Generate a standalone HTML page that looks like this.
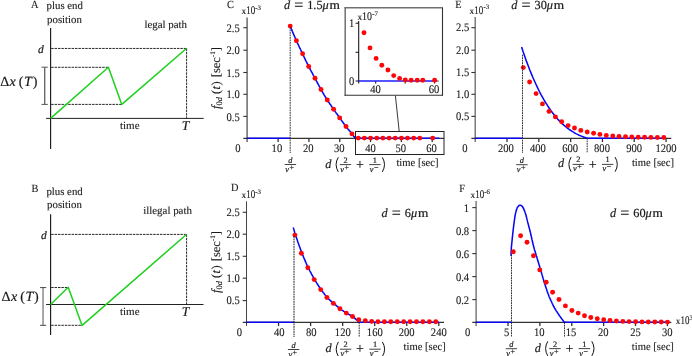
<!DOCTYPE html><html><head><meta charset="utf-8"><style>html,body{margin:0;padding:0;background:#fff}svg{display:block;will-change:transform}text{font-family:"Liberation Serif",serif;fill:#1a1a1a;text-rendering:geometricPrecision;stroke:#1a1a1a;stroke-width:0.12px}</style></head><body>
<svg width="692" height="356" viewBox="0 0 692 356">
<rect width="692" height="356" fill="#fff"/>
<text transform="translate(31.0,7.9) scale(0.94,1)" font-size="11" text-anchor="start"  >A</text>
<text x="46.6" y="8.8" font-size="10.8" text-anchor="start"  >plus end</text>
<text x="47.1" y="22.6" font-size="10.8" text-anchor="start"  >position</text>
<line x1="50.6" y1="28" x2="50.6" y2="149" stroke="#1a1a1a" stroke-width="1.15" />
<line x1="46.1" y1="118.4" x2="203.7" y2="118.4" stroke="#222" stroke-width="1.0" />
<line x1="51.2" y1="48.45" x2="186.5" y2="48.45" stroke="#111" stroke-width="0.9" stroke-dasharray="2.5 0.9"/>
<line x1="186.6" y1="48.45" x2="186.6" y2="118.4" stroke="#111" stroke-width="0.9" stroke-dasharray="2.5 0.9"/>
<line x1="51.2" y1="67.3" x2="108.4" y2="67.3" stroke="#111" stroke-width="0.9" stroke-dasharray="2.5 0.9"/>
<line x1="51.2" y1="104.4" x2="121.8" y2="104.4" stroke="#111" stroke-width="0.9" stroke-dasharray="2.5 0.9"/>
<polyline points="50.6,118.4 108.4,67.3 121.8,104.4 186.4,48.5" fill="none" stroke="#1ed01e" stroke-width="1.5" stroke-linejoin="round"/>
<line x1="44.75" y1="67.3" x2="44.75" y2="104.4" stroke="#444" stroke-width="1.1" />
<line x1="41.5" y1="67.2" x2="47.8" y2="67.2" stroke="#555" stroke-width="1" />
<line x1="41.5" y1="104.4" x2="47.8" y2="104.4" stroke="#555" stroke-width="1" />
<text x="38" y="52.7" font-size="11.5" text-anchor="start"  font-style="italic" style="stroke-width:0.2px">d</text>
<text x="0.3" y="86.2" font-size="14" text-anchor="start"  style="stroke-width:0.2px">Δ<tspan font-style="italic" dx="0.3">x</tspan><tspan dx="3">(</tspan><tspan font-style="italic" dx="0.6">T</tspan><tspan dx="0.8">)</tspan></text>
<text x="144.4" y="27.8" font-size="10.9" text-anchor="start"  >legal path</text>
<text x="120" y="128.7" font-size="11" text-anchor="start"  >time</text>
<text x="181.8" y="130.1" font-size="13.5" text-anchor="start"  font-style="italic" style="stroke-width:0.2px">T</text>
<text transform="translate(31.6,191.7) scale(0.94,1)" font-size="11" text-anchor="start"  >B</text>
<text x="46.4" y="194.8" font-size="10.8" text-anchor="start"  >plus end</text>
<text x="47.1" y="208.4" font-size="10.8" text-anchor="start"  >position</text>
<line x1="50.6" y1="214.3" x2="50.6" y2="335" stroke="#1a1a1a" stroke-width="1.15" />
<line x1="46.1" y1="304.5" x2="203.5" y2="304.5" stroke="#222" stroke-width="1.0" />
<line x1="51.2" y1="234.4" x2="186.5" y2="234.4" stroke="#111" stroke-width="0.9" stroke-dasharray="2.5 0.9"/>
<line x1="186.6" y1="234.4" x2="186.6" y2="304.5" stroke="#111" stroke-width="0.9" stroke-dasharray="2.5 0.9"/>
<line x1="51.2" y1="287.5" x2="68.2" y2="287.5" stroke="#111" stroke-width="0.9" stroke-dasharray="2.5 0.9"/>
<line x1="51.2" y1="325.3" x2="82" y2="325.3" stroke="#111" stroke-width="0.9" stroke-dasharray="2.5 0.9"/>
<polyline points="50.6,304.5 68.2,287.2 82.1,325.4 186.4,234.5" fill="none" stroke="#1ed01e" stroke-width="1.5" stroke-linejoin="round"/>
<line x1="43.05" y1="287.6" x2="43.05" y2="325.3" stroke="#999" stroke-width="1.7" />
<line x1="40.1" y1="287.6" x2="46.2" y2="287.6" stroke="#444" stroke-width="1" />
<line x1="40.1" y1="325.3" x2="46.2" y2="325.3" stroke="#444" stroke-width="1" />
<text x="41" y="239.3" font-size="11.5" text-anchor="start"  font-style="italic" style="stroke-width:0.2px">d</text>
<text x="1.6" y="301.3" font-size="14" text-anchor="start"  style="stroke-width:0.2px">Δ<tspan font-style="italic" dx="0.3">x</tspan><tspan dx="3">(</tspan><tspan font-style="italic" dx="0.6">T</tspan><tspan dx="0.8">)</tspan></text>
<text x="143.2" y="213.9" font-size="10.9" text-anchor="start"  >illegal path</text>
<text x="120" y="314.7" font-size="11" text-anchor="start"  >time</text>
<text x="181.8" y="316.4" font-size="13.5" text-anchor="start"  font-style="italic" style="stroke-width:0.2px">T</text>
<text transform="translate(227,7.8) scale(0.94,1)" font-size="11" text-anchor="start"  >C</text>
<text x="241.5" y="13.9" font-size="9.3" text-anchor="start"  >x</text>
<text transform="translate(246.2,13.9) scale(0.78,1)" font-size="11.5" text-anchor="start"  >10</text>
<text x="255.37" y="9.600000000000001" font-size="6.8" text-anchor="start"  >-3</text>
<text x="283.9" y="9" font-size="12.3" text-anchor="start"  font-style="italic" style="stroke-width:0.2px">d</text>
<text x="294.2" y="10.0" font-size="16" text-anchor="start"  style="stroke-width:0.2px">=</text>
<text x="307.2" y="9" font-size="12.3" text-anchor="start"  style="stroke-width:0.2px">1.5</text>
<text x="322.59999999999997" y="9" font-size="12.3" text-anchor="start"  font-style="italic" style="stroke-width:0.2px">μ</text>
<text x="329.59999999999997" y="9" font-size="12.3" text-anchor="start" textLength="10.4" lengthAdjust="spacingAndGlyphs" style="stroke-width:0.2px">m</text>
<line x1="247.1" y1="17.4" x2="247.1" y2="141.9" stroke="#6a6a6a" stroke-width="1.5" />
<line x1="243.29999999999998" y1="138.3" x2="444" y2="138.3" stroke="#000" stroke-width="1.0" />
<line x1="243.29999999999998" y1="27.7" x2="247.1" y2="27.7" stroke="#333" stroke-width="1.1" />
<line x1="243.29999999999998" y1="50.2" x2="247.1" y2="50.2" stroke="#333" stroke-width="1.1" />
<line x1="243.29999999999998" y1="72.5" x2="247.1" y2="72.5" stroke="#333" stroke-width="1.1" />
<line x1="243.29999999999998" y1="94.3" x2="247.1" y2="94.3" stroke="#333" stroke-width="1.1" />
<line x1="243.29999999999998" y1="116.4" x2="247.1" y2="116.4" stroke="#333" stroke-width="1.1" />
<line x1="278.117" y1="138.3" x2="278.117" y2="142.10000000000002" stroke="#333" stroke-width="1.3" />
<line x1="308.934" y1="138.3" x2="308.934" y2="142.10000000000002" stroke="#333" stroke-width="1.3" />
<line x1="339.75100000000003" y1="138.3" x2="339.75100000000003" y2="142.10000000000002" stroke="#333" stroke-width="1.3" />
<line x1="370.568" y1="138.3" x2="370.568" y2="142.10000000000002" stroke="#333" stroke-width="1.3" />
<line x1="401.385" y1="138.3" x2="401.385" y2="142.10000000000002" stroke="#333" stroke-width="1.3" />
<line x1="432.202" y1="138.3" x2="432.202" y2="142.10000000000002" stroke="#333" stroke-width="1.3" />
<text transform="translate(239.79999999999998,31.85) scale(0.92,1)" font-size="11.5" text-anchor="end"  >2.5</text>
<text transform="translate(239.79999999999998,54.35) scale(0.92,1)" font-size="11.5" text-anchor="end"  >2.0</text>
<text transform="translate(239.79999999999998,76.64999999999999) scale(0.92,1)" font-size="11.5" text-anchor="end"  >1.5</text>
<text transform="translate(239.79999999999998,98.44999999999999) scale(0.92,1)" font-size="11.5" text-anchor="end"  >1.0</text>
<text transform="translate(239.79999999999998,120.55) scale(0.92,1)" font-size="11.5" text-anchor="end"  >0.5</text>
<text transform="translate(238,152.3) scale(0.92,1)" font-size="11.5" text-anchor="middle"  >0</text>
<text transform="translate(276.9,152.3) scale(0.92,1)" font-size="11.5" text-anchor="middle"  >10</text>
<text transform="translate(308.2,152.3) scale(0.92,1)" font-size="11.5" text-anchor="middle"  >20</text>
<text transform="translate(339.2,152.3) scale(0.92,1)" font-size="11.5" text-anchor="middle"  >30</text>
<text transform="translate(370.5,152.3) scale(0.92,1)" font-size="11.5" text-anchor="middle"  >40</text>
<text transform="translate(400.7,152.3) scale(0.92,1)" font-size="11.5" text-anchor="middle"  >50</text>
<text transform="translate(431.6,152.3) scale(0.92,1)" font-size="11.5" text-anchor="middle"  >60</text>
<g transform="translate(219.5,78) rotate(-90)">
<text x="0" y="0" font-size="12.5" text-anchor="middle"  ><tspan font-style="italic">f</tspan><tspan font-size="8.5" dy="2.2">0<tspan font-style="italic">d</tspan></tspan><tspan dy="-2.2" dx="2.8">(</tspan><tspan font-style="italic" dx="0.5">t</tspan><tspan dx="0.5">)</tspan><tspan dx="4">[sec</tspan><tspan font-size="7" dy="-4.2">-1</tspan><tspan dy="4.2">]</tspan></text>
</g>
<polyline points="247.1,138.3 290.2,138.3" fill="none" stroke="#0808f2" stroke-width="1.55" stroke-linejoin="round"/>
<polyline points="290.2,26.1 290.5,26.8 290.9,27.7 291.3,28.8 291.8,29.9 292.3,31.2 292.9,32.6 293.5,34.0 294.1,35.4 294.7,36.8 295.3,38.2 295.9,39.5 296.4,40.7 296.9,41.8 297.4,43.0 298.0,44.1 298.5,45.2 299.0,46.3 299.5,47.4 300.0,48.4 300.5,49.5 301.1,50.6 301.6,51.7 302.1,52.7 302.6,53.8 303.1,54.9 303.6,56.0 304.1,57.0 304.6,58.1 305.1,59.2 305.6,60.2 306.1,61.3 306.7,62.4 307.2,63.4 307.7,64.4 308.2,65.5 308.7,66.5 309.2,67.5 309.7,68.5 310.3,69.5 310.8,70.5 311.3,71.5 311.9,72.4 312.4,73.4 312.9,74.4 313.4,75.3 314.0,76.3 314.5,77.2 315.0,78.2 315.5,79.2 316.0,80.1 316.5,81.1 317.0,82.0 317.5,83.0 318.0,83.9 318.5,84.9 319.0,85.8 319.5,86.7 320.0,87.7 320.5,88.6 321.0,89.5 321.5,90.4 322.0,91.3 322.6,92.2 323.1,93.1 323.6,94.0 324.1,94.9 324.7,95.8 325.2,96.6 325.7,97.5 326.2,98.3 326.8,99.2 327.3,100.0 327.8,100.8 328.4,101.6 328.9,102.4 329.4,103.2 329.9,104.0 330.5,104.7 331.0,105.5 331.5,106.2 332.0,107.0 332.6,107.7 333.1,108.5 333.6,109.2 334.1,109.9 334.6,110.7 335.1,111.4 335.6,112.1 336.1,112.9 336.7,113.6 337.2,114.3 337.7,115.0 338.2,115.7 338.7,116.5 339.2,117.2 339.7,117.9 340.2,118.6 340.7,119.4 341.3,120.1 341.8,120.8 342.3,121.6 342.9,122.3 343.4,123.0 343.9,123.7 344.4,124.4 345.0,125.1 345.5,125.8 346.0,126.5 346.5,127.2 347.0,127.8 347.6,128.5 348.1,129.2 348.7,129.8 349.2,130.5 349.7,131.1 350.2,131.7 350.7,132.3 351.2,132.9 351.6,133.4 352.0,133.9 352.4,134.4 352.7,134.9 353.1,135.3 353.4,135.8 353.7,136.2 354.0,136.6 354.3,136.9 354.5,137.3 354.8,137.6 355.0,137.9 355.1,138.1 355.3,138.3 439.3,138.3" fill="none" stroke="#0808f2" stroke-width="1.55" stroke-linejoin="round"/>
<circle cx="290.2" cy="26.1" r="2.45" fill="#ff0408"/>
<circle cx="296.4" cy="40.7" r="2.45" fill="#ff0408"/>
<circle cx="302.6" cy="53.8" r="2.45" fill="#ff0408"/>
<circle cx="308.7" cy="66.5" r="2.45" fill="#ff0408"/>
<circle cx="315.0" cy="78.2" r="2.45" fill="#ff0408"/>
<circle cx="321.0" cy="89.5" r="2.45" fill="#ff0408"/>
<circle cx="327.3" cy="100.0" r="2.45" fill="#ff0408"/>
<circle cx="333.6" cy="109.2" r="2.45" fill="#ff0408"/>
<circle cx="339.7" cy="117.9" r="2.45" fill="#ff0408"/>
<circle cx="346.0" cy="126.5" r="2.45" fill="#ff0408"/>
<circle cx="352.0" cy="133.9" r="2.45" fill="#ff0408"/>
<circle cx="358.3" cy="138.1" r="2.45" fill="#ff0408"/>
<circle cx="364.4" cy="138.1" r="2.45" fill="#ff0408"/>
<circle cx="370.6" cy="138.1" r="2.45" fill="#ff0408"/>
<circle cx="376.8" cy="138.1" r="2.45" fill="#ff0408"/>
<circle cx="382.9" cy="138.1" r="2.45" fill="#ff0408"/>
<circle cx="389.1" cy="138.1" r="2.45" fill="#ff0408"/>
<circle cx="395.2" cy="138.1" r="2.45" fill="#ff0408"/>
<circle cx="401.4" cy="138.1" r="2.45" fill="#ff0408"/>
<circle cx="407.5" cy="138.1" r="2.45" fill="#ff0408"/>
<circle cx="413.7" cy="138.1" r="2.45" fill="#ff0408"/>
<circle cx="419.8" cy="138.1" r="2.45" fill="#ff0408"/>
<circle cx="432.7" cy="138.1" r="2.45" fill="#ff0408"/>
<line x1="290.2" y1="27" x2="290.2" y2="153" stroke="#222" stroke-width="0.9" stroke-dasharray="1.8 0.7"/>
<rect x="355.5" y="131.5" width="88.5" height="23" fill="none" stroke="#222" stroke-width="1"/>
<line x1="395.4" y1="95.6" x2="399.2" y2="131.3" stroke="#222" stroke-width="0.9" />
<rect x="345.2" y="7.8" width="97.3" height="87.4" fill="#fff"/>
<line x1="345.2" y1="7.1" x2="345.2" y2="95.7" stroke="#707070" stroke-width="1.5" />
<line x1="344.5" y1="7.8" x2="443" y2="7.8" stroke="#707070" stroke-width="1.4" />
<line x1="442.5" y1="7.8" x2="442.5" y2="95.7" stroke="#333" stroke-width="1.1" />
<line x1="344.5" y1="95.2" x2="443" y2="95.2" stroke="#333" stroke-width="1.1" />
<text x="357.4" y="19.6" font-size="9.3" text-anchor="start"  >x</text>
<text transform="translate(362.09999999999997,19.6) scale(0.86,1)" font-size="11.5" text-anchor="start"  >10</text>
<text x="372.18999999999994" y="15.900000000000002" font-size="6.8" text-anchor="start"  >-7</text>
<line x1="358.7" y1="20.9" x2="358.7" y2="83.5" stroke="#111" stroke-width="1.05" />
<line x1="355.6" y1="81" x2="358.8" y2="81" stroke="#111" stroke-width="1" />
<line x1="437" y1="81" x2="439" y2="81" stroke="#666" stroke-width="1" />
<line x1="355.6" y1="23.2" x2="358.8" y2="23.2" stroke="#111" stroke-width="1" />
<line x1="355.6" y1="52.3" x2="358.8" y2="52.3" stroke="#111" stroke-width="1" />
<line x1="375.7" y1="81" x2="375.7" y2="83.6" stroke="#111" stroke-width="1" />
<line x1="405.2" y1="81" x2="405.2" y2="83.6" stroke="#111" stroke-width="1" />
<line x1="434.6" y1="81" x2="434.6" y2="83.6" stroke="#111" stroke-width="1" />
<text transform="translate(354.2,27) scale(0.92,1)" font-size="11.5" text-anchor="end"  >1</text>
<text transform="translate(354.2,84.9) scale(0.92,1)" font-size="11.5" text-anchor="end"  >0</text>
<text transform="translate(375.6,92.6) scale(0.92,1)" font-size="11.5" text-anchor="middle"  >40</text>
<text transform="translate(434,92.9) scale(0.92,1)" font-size="11.5" text-anchor="middle"  >60</text>
<polyline points="358.8,81.0 437.2,81.0" fill="none" stroke="#1c1cff" stroke-width="1.6" stroke-linejoin="round"/>
<circle cx="364.0" cy="32.8" r="2.45" fill="#ff0408"/>
<circle cx="370.0" cy="47.9" r="2.45" fill="#ff0408"/>
<circle cx="376.1" cy="58.4" r="2.45" fill="#ff0408"/>
<circle cx="381.8" cy="65.3" r="2.45" fill="#ff0408"/>
<circle cx="387.9" cy="70.0" r="2.45" fill="#ff0408"/>
<circle cx="393.7" cy="75.6" r="2.45" fill="#ff0408"/>
<circle cx="399.6" cy="78.4" r="2.45" fill="#ff0408"/>
<circle cx="405.3" cy="80.0" r="2.45" fill="#ff0408"/>
<circle cx="411.1" cy="80.3" r="2.45" fill="#ff0408"/>
<circle cx="417.2" cy="80.3" r="2.45" fill="#ff0408"/>
<circle cx="422.8" cy="80.3" r="2.45" fill="#ff0408"/>
<circle cx="434.6" cy="80.3" r="2.45" fill="#ff0408"/>
<text x="290.4" y="162.5" font-size="8.3" text-anchor="middle"  font-style="italic" style="stroke-width:0.2px">d</text>
<line x1="284.7" y1="164.5" x2="296.09999999999997" y2="164.5" stroke="#111" stroke-width="0.8" />
<text x="285.2" y="171.5" font-size="8.3" text-anchor="start"  font-style="italic" style="stroke-width:0.2px">v</text>
<text x="289.4" y="169.5" font-size="8" text-anchor="start"  style="stroke-width:0.2px">+</text>
<text x="325.3" y="167.6" font-size="12.3" text-anchor="start"  font-style="italic" style="stroke-width:0.2px">d</text>
<path d="M338.3,157.29999999999998 Q333.90000000000003,164.6 338.3,171.9" fill="none" stroke="#111" stroke-width="1"/>
<text x="345.5" y="162.6" font-size="8.3" text-anchor="middle"  style="stroke-width:0.2px">2</text>
<line x1="339.8" y1="164.6" x2="351.2" y2="164.6" stroke="#111" stroke-width="0.8" />
<text x="340.3" y="171.6" font-size="8.3" text-anchor="start"  font-style="italic" style="stroke-width:0.2px">v</text>
<text x="344.5" y="169.6" font-size="8" text-anchor="start"  style="stroke-width:0.2px">+</text>
<text x="359.90000000000003" y="168.79999999999998" font-size="14" text-anchor="middle"  style="stroke-width:0.2px">+</text>
<text x="374.90000000000003" y="162.6" font-size="8.3" text-anchor="middle"  style="stroke-width:0.2px">1</text>
<line x1="369.20000000000005" y1="164.6" x2="380.6" y2="164.6" stroke="#111" stroke-width="0.8" />
<text x="369.70000000000005" y="171.6" font-size="8.3" text-anchor="start"  font-style="italic" style="stroke-width:0.2px">v</text>
<text x="373.90000000000003" y="169.6" font-size="8" text-anchor="start"  style="stroke-width:0.2px">−</text>
<path d="M382.3,157.29999999999998 Q386.7,164.6 382.3,171.9" fill="none" stroke="#111" stroke-width="1"/>
<text transform="translate(396.4,166.3) scale(0.963,1)" font-size="11" text-anchor="start"  >time [sec]</text>
<text transform="translate(455.3,7.8) scale(0.94,1)" font-size="11" text-anchor="start"  >E</text>
<text x="469.6" y="13.6" font-size="9.3" text-anchor="start"  >x</text>
<text transform="translate(474.3,13.6) scale(0.78,1)" font-size="11.5" text-anchor="start"  >10</text>
<text x="483.47" y="9.3" font-size="6.8" text-anchor="start"  >-3</text>
<text x="511.3" y="9" font-size="12.3" text-anchor="start"  font-style="italic" style="stroke-width:0.2px">d</text>
<text x="521.6" y="10.0" font-size="16" text-anchor="start"  style="stroke-width:0.2px">=</text>
<text x="534.6" y="9" font-size="12.3" text-anchor="start"  style="stroke-width:0.2px">30</text>
<text x="546.7" y="9" font-size="12.3" text-anchor="start"  font-style="italic" style="stroke-width:0.2px">μ</text>
<text x="553.7" y="9" font-size="12.3" text-anchor="start" textLength="10.4" lengthAdjust="spacingAndGlyphs" style="stroke-width:0.2px">m</text>
<line x1="475.2" y1="17" x2="475.2" y2="141.9" stroke="#666" stroke-width="1.3" />
<line x1="471.4" y1="138.3" x2="671.3" y2="138.3" stroke="#000" stroke-width="1.0" />
<line x1="471.4" y1="27.7" x2="475.2" y2="27.7" stroke="#333" stroke-width="1.1" />
<line x1="471.4" y1="50.2" x2="475.2" y2="50.2" stroke="#333" stroke-width="1.1" />
<line x1="471.4" y1="72.5" x2="475.2" y2="72.5" stroke="#333" stroke-width="1.1" />
<line x1="471.4" y1="94.3" x2="475.2" y2="94.3" stroke="#333" stroke-width="1.1" />
<line x1="471.4" y1="116.4" x2="475.2" y2="116.4" stroke="#333" stroke-width="1.1" />
<line x1="507.01" y1="138.3" x2="507.01" y2="142.10000000000002" stroke="#333" stroke-width="1.3" />
<line x1="538.8199999999999" y1="138.3" x2="538.8199999999999" y2="142.10000000000002" stroke="#333" stroke-width="1.3" />
<line x1="570.63" y1="138.3" x2="570.63" y2="142.10000000000002" stroke="#333" stroke-width="1.3" />
<line x1="602.4399999999999" y1="138.3" x2="602.4399999999999" y2="142.10000000000002" stroke="#333" stroke-width="1.3" />
<line x1="634.25" y1="138.3" x2="634.25" y2="142.10000000000002" stroke="#333" stroke-width="1.3" />
<line x1="666.06" y1="138.3" x2="666.06" y2="142.10000000000002" stroke="#333" stroke-width="1.3" />
<text transform="translate(469.3,31.150000000000002) scale(0.92,1)" font-size="11.5" text-anchor="end"  >2.5</text>
<text transform="translate(469.3,53.65) scale(0.92,1)" font-size="11.5" text-anchor="end"  >2.0</text>
<text transform="translate(469.3,75.94999999999999) scale(0.92,1)" font-size="11.5" text-anchor="end"  >1.5</text>
<text transform="translate(469.3,97.74999999999999) scale(0.92,1)" font-size="11.5" text-anchor="end"  >1.0</text>
<text transform="translate(469.3,119.85) scale(0.92,1)" font-size="11.5" text-anchor="end"  >0.5</text>
<text transform="translate(464.9,152.2) scale(0.92,1)" font-size="11.5" text-anchor="middle"  >0</text>
<text transform="translate(505.9,152.2) scale(0.92,1)" font-size="11.5" text-anchor="middle"  >200</text>
<text transform="translate(537.9,152.2) scale(0.92,1)" font-size="11.5" text-anchor="middle"  >400</text>
<text transform="translate(570.2,152.2) scale(0.92,1)" font-size="11.5" text-anchor="middle"  >600</text>
<text transform="translate(602,152.2) scale(0.92,1)" font-size="11.5" text-anchor="middle"  >800</text>
<text transform="translate(634.2,152.2) scale(0.92,1)" font-size="11.5" text-anchor="middle"  >900</text>
<text transform="translate(666,152.2) scale(0.92,1)" font-size="11.5" text-anchor="middle"  >1200</text>
<polyline points="475.2,138.3 522.5,138.3" fill="none" stroke="#0808f2" stroke-width="1.55" stroke-linejoin="round"/>
<polyline points="521.6,47.1 523.2,52.0 524.9,56.8 526.5,61.4 528.2,65.8 529.8,70.0 531.5,74.1 533.1,78.0 534.8,81.7 536.4,85.3 538.0,88.7 539.7,92.0 541.3,95.1 543.0,98.1 544.6,101.0 546.3,103.7 547.9,106.2 549.6,108.7 551.2,111.0 552.9,113.2 554.5,115.3 556.1,117.3 557.8,119.2 559.4,120.9 561.1,122.6 562.7,124.2 564.4,125.6 566.0,127.0 567.7,128.3 569.3,129.5 571.0,130.6 572.6,131.7 574.2,132.7 575.9,133.6 577.5,134.4 579.2,135.2 580.8,135.9 582.5,136.6 584.1,137.2 585.8,137.8 587.4,138.3 666.0,138.3" fill="none" stroke="#0808f2" stroke-width="1.55" stroke-linejoin="round"/>
<circle cx="523.3" cy="67.6" r="2.45" fill="#ff0408"/>
<circle cx="529.6" cy="82.0" r="2.45" fill="#ff0408"/>
<circle cx="536.1" cy="93.6" r="2.45" fill="#ff0408"/>
<circle cx="542.5" cy="103.9" r="2.45" fill="#ff0408"/>
<circle cx="549.0" cy="111.4" r="2.45" fill="#ff0408"/>
<circle cx="555.4" cy="116.9" r="2.45" fill="#ff0408"/>
<circle cx="561.7" cy="121.8" r="2.45" fill="#ff0408"/>
<circle cx="568.1" cy="125.6" r="2.45" fill="#ff0408"/>
<circle cx="574.5" cy="128.0" r="2.45" fill="#ff0408"/>
<circle cx="580.8" cy="130.4" r="2.45" fill="#ff0408"/>
<circle cx="587.2" cy="132.0" r="2.45" fill="#ff0408"/>
<circle cx="593.6" cy="133.3" r="2.45" fill="#ff0408"/>
<circle cx="599.9" cy="134.4" r="2.45" fill="#ff0408"/>
<circle cx="606.3" cy="135.4" r="2.45" fill="#ff0408"/>
<circle cx="612.8" cy="136.0" r="2.45" fill="#ff0408"/>
<circle cx="619.0" cy="136.5" r="2.45" fill="#ff0408"/>
<circle cx="625.5" cy="136.8" r="2.45" fill="#ff0408"/>
<circle cx="631.8" cy="137.0" r="2.45" fill="#ff0408"/>
<circle cx="638.2" cy="137.2" r="2.45" fill="#ff0408"/>
<circle cx="644.6" cy="137.3" r="2.45" fill="#ff0408"/>
<circle cx="650.9" cy="137.4" r="2.45" fill="#ff0408"/>
<circle cx="657.4" cy="137.5" r="2.45" fill="#ff0408"/>
<circle cx="663.8" cy="137.5" r="2.45" fill="#ff0408"/>
<line x1="522.5" y1="54.7" x2="522.5" y2="153" stroke="#222" stroke-width="0.9" stroke-dasharray="1.8 0.7"/>
<line x1="587.2" y1="138" x2="587.2" y2="152.5" stroke="#222" stroke-width="0.9" stroke-dasharray="1.8 0.7"/>
<text x="521.9" y="162.7" font-size="8.3" text-anchor="middle"  font-style="italic" style="stroke-width:0.2px">d</text>
<line x1="516.1999999999999" y1="164.7" x2="527.6" y2="164.7" stroke="#111" stroke-width="0.8" />
<text x="516.6999999999999" y="171.7" font-size="8.3" text-anchor="start"  font-style="italic" style="stroke-width:0.2px">v</text>
<text x="520.9" y="169.7" font-size="8" text-anchor="start"  style="stroke-width:0.2px">+</text>
<text x="558.1" y="167.4" font-size="12.3" text-anchor="start"  font-style="italic" style="stroke-width:0.2px">d</text>
<path d="M571.1,157.1 Q566.7,164.4 571.1,171.70000000000002" fill="none" stroke="#111" stroke-width="1"/>
<text x="578.3000000000001" y="162.4" font-size="8.3" text-anchor="middle"  style="stroke-width:0.2px">2</text>
<line x1="572.6" y1="164.4" x2="584.0000000000001" y2="164.4" stroke="#111" stroke-width="0.8" />
<text x="573.1" y="171.4" font-size="8.3" text-anchor="start"  font-style="italic" style="stroke-width:0.2px">v</text>
<text x="577.3000000000001" y="169.4" font-size="8" text-anchor="start"  style="stroke-width:0.2px">+</text>
<text x="592.7" y="168.6" font-size="14" text-anchor="middle"  style="stroke-width:0.2px">+</text>
<text x="607.7" y="162.4" font-size="8.3" text-anchor="middle"  style="stroke-width:0.2px">1</text>
<line x1="602.0" y1="164.4" x2="613.4000000000001" y2="164.4" stroke="#111" stroke-width="0.8" />
<text x="602.5" y="171.4" font-size="8.3" text-anchor="start"  font-style="italic" style="stroke-width:0.2px">v</text>
<text x="606.7" y="169.4" font-size="8" text-anchor="start"  style="stroke-width:0.2px">−</text>
<path d="M615.1,157.1 Q619.5,164.4 615.1,171.70000000000002" fill="none" stroke="#111" stroke-width="1"/>
<text transform="translate(631.9,166.3) scale(0.963,1)" font-size="11" text-anchor="start"  >time [sec]</text>
<text transform="translate(231,191.3) scale(0.94,1)" font-size="11" text-anchor="start"  >D</text>
<text x="241.5" y="198.1" font-size="9.3" text-anchor="start"  >x</text>
<text transform="translate(246.2,198.1) scale(0.78,1)" font-size="11.5" text-anchor="start"  >10</text>
<text x="255.37" y="193.79999999999998" font-size="6.8" text-anchor="start"  >-3</text>
<text x="381.5" y="217.4" font-size="12.3" text-anchor="start"  font-style="italic" style="stroke-width:0.2px">d</text>
<text x="391.8" y="218.4" font-size="16" text-anchor="start"  style="stroke-width:0.2px">=</text>
<text x="404.8" y="217.4" font-size="12.3" text-anchor="start"  style="stroke-width:0.2px">6</text>
<text x="410.9" y="217.4" font-size="12.3" text-anchor="start"  font-style="italic" style="stroke-width:0.2px">μ</text>
<text x="417.9" y="217.4" font-size="12.3" text-anchor="start" textLength="10.4" lengthAdjust="spacingAndGlyphs" style="stroke-width:0.2px">m</text>
<line x1="246.5" y1="201.3" x2="246.5" y2="325.90000000000003" stroke="#444" stroke-width="1.0" />
<line x1="242.7" y1="322.3" x2="444" y2="322.3" stroke="#000" stroke-width="1.0" />
<line x1="242.7" y1="212.29999999999998" x2="246.5" y2="212.29999999999998" stroke="#333" stroke-width="1.1" />
<line x1="242.7" y1="234.2" x2="246.5" y2="234.2" stroke="#333" stroke-width="1.1" />
<line x1="242.7" y1="256.3" x2="246.5" y2="256.3" stroke="#333" stroke-width="1.1" />
<line x1="242.7" y1="278.2" x2="246.5" y2="278.2" stroke="#333" stroke-width="1.1" />
<line x1="242.7" y1="300.59999999999997" x2="246.5" y2="300.59999999999997" stroke="#333" stroke-width="1.1" />
<line x1="278.55" y1="322.3" x2="278.55" y2="326.1" stroke="#333" stroke-width="1.3" />
<line x1="310.6" y1="322.3" x2="310.6" y2="326.1" stroke="#333" stroke-width="1.3" />
<line x1="342.65" y1="322.3" x2="342.65" y2="326.1" stroke="#333" stroke-width="1.3" />
<line x1="374.7" y1="322.3" x2="374.7" y2="326.1" stroke="#333" stroke-width="1.3" />
<line x1="406.75" y1="322.3" x2="406.75" y2="326.1" stroke="#333" stroke-width="1.3" />
<line x1="438.8" y1="322.3" x2="438.8" y2="326.1" stroke="#333" stroke-width="1.3" />
<text transform="translate(239.75,215.95) scale(0.92,1)" font-size="11.5" text-anchor="end"  >2.5</text>
<text transform="translate(239.75,237.85) scale(0.92,1)" font-size="11.5" text-anchor="end"  >2.0</text>
<text transform="translate(239.75,259.95000000000005) scale(0.92,1)" font-size="11.5" text-anchor="end"  >1.5</text>
<text transform="translate(239.75,281.85) scale(0.92,1)" font-size="11.5" text-anchor="end"  >1.0</text>
<text transform="translate(239.75,304.25) scale(0.92,1)" font-size="11.5" text-anchor="end"  >0.5</text>
<text transform="translate(239.5,336.1) scale(0.92,1)" font-size="11.5" text-anchor="middle"  >0</text>
<text transform="translate(279.2,336.1) scale(0.92,1)" font-size="11.5" text-anchor="middle"  >40</text>
<text transform="translate(311.3,336.1) scale(0.92,1)" font-size="11.5" text-anchor="middle"  >80</text>
<text transform="translate(342.8,336.1) scale(0.92,1)" font-size="11.5" text-anchor="middle"  >120</text>
<text transform="translate(374.8,336.1) scale(0.92,1)" font-size="11.5" text-anchor="middle"  >160</text>
<text transform="translate(406.7,336.1) scale(0.92,1)" font-size="11.5" text-anchor="middle"  >200</text>
<text transform="translate(438.8,336.1) scale(0.92,1)" font-size="11.5" text-anchor="middle"  >240</text>
<g transform="translate(219.5,262) rotate(-90)">
<text x="0" y="0" font-size="12.5" text-anchor="middle"  ><tspan font-style="italic">f</tspan><tspan font-size="8.5" dy="2.2">0<tspan font-style="italic">d</tspan></tspan><tspan dy="-2.2" dx="2.8">(</tspan><tspan font-style="italic" dx="0.5">t</tspan><tspan dx="0.5">)</tspan><tspan dx="4">[sec</tspan><tspan font-size="7" dy="-4.2">-1</tspan><tspan dy="4.2">]</tspan></text>
</g>
<polyline points="246.5,322.3 294.3,322.3" fill="none" stroke="#0808f2" stroke-width="1.55" stroke-linejoin="round"/>
<polyline points="293.3,227.4 293.4,227.7 293.5,228.1 293.6,228.5 293.7,229.0 293.9,229.5 294.0,230.1 294.2,230.8 294.4,231.5 294.6,232.3 294.9,233.1 295.2,234.1 295.5,235.1 295.9,236.3 296.4,237.6 296.9,239.0 297.4,240.5 297.9,242.1 298.5,243.7 299.1,245.4 299.7,247.0 300.3,248.7 300.9,250.3 301.4,251.8 302.0,253.2 302.5,254.5 303.1,255.9 303.6,257.2 304.1,258.4 304.6,259.7 305.2,260.9 305.7,262.1 306.2,263.3 306.7,264.4 307.3,265.6 307.8,266.7 308.3,267.8 308.9,268.9 309.4,269.9 309.9,271.0 310.4,272.0 311.0,273.0 311.5,274.0 312.0,275.0 312.6,275.9 313.1,276.8 313.6,277.8 314.1,278.7 314.7,279.6 315.2,280.5 315.7,281.4 316.3,282.3 316.8,283.1 317.4,284.0 317.9,284.8 318.4,285.7 319.0,286.5 319.5,287.3 320.1,288.1 320.6,288.8 321.1,289.6 321.6,290.3 322.2,291.1 322.7,291.8 323.2,292.5 323.7,293.1 324.2,293.8 324.7,294.5 325.2,295.1 325.7,295.7 326.2,296.3 326.7,296.9 327.3,297.5 327.8,298.1 328.3,298.6 328.8,299.1 329.4,299.6 329.9,300.1 330.5,300.6 331.0,301.1 331.5,301.6 332.1,302.0 332.6,302.5 333.2,302.9 333.7,303.4 334.2,303.9 334.8,304.3 335.3,304.8 335.8,305.2 336.4,305.7 336.9,306.1 337.5,306.6 338.0,307.0 338.5,307.5 339.1,307.9 339.6,308.3 340.1,308.7 340.7,309.1 341.2,309.5 341.7,309.9 342.3,310.3 342.8,310.6 343.3,311.0 343.9,311.4 344.4,311.7 344.9,312.1 345.4,312.4 346.0,312.8 346.5,313.1 347.0,313.4 347.5,313.7 348.0,314.0 348.5,314.2 349.0,314.5 349.5,314.7 350.0,315.0 350.5,315.2 351.1,315.5 351.6,315.8 352.1,316.1 352.6,316.5 353.2,316.9 353.8,317.4 354.4,317.9 355.0,318.5 355.7,319.0 356.3,319.6 356.9,320.2 357.5,320.7 358.0,321.2 358.5,321.6 358.9,322.0 359.2,322.3 439.0,322.3" fill="none" stroke="#0808f2" stroke-width="1.55" stroke-linejoin="round"/>
<circle cx="294.9" cy="235.1" r="2.45" fill="#ff0408"/>
<circle cx="301.4" cy="253.2" r="2.45" fill="#ff0408"/>
<circle cx="307.8" cy="267.8" r="2.45" fill="#ff0408"/>
<circle cx="314.2" cy="279.6" r="2.45" fill="#ff0408"/>
<circle cx="320.7" cy="289.6" r="2.45" fill="#ff0408"/>
<circle cx="326.9" cy="297.5" r="2.45" fill="#ff0408"/>
<circle cx="333.4" cy="303.4" r="2.45" fill="#ff0408"/>
<circle cx="339.9" cy="308.7" r="2.45" fill="#ff0408"/>
<circle cx="346.3" cy="313.1" r="2.45" fill="#ff0408"/>
<circle cx="352.5" cy="316.5" r="2.45" fill="#ff0408"/>
<circle cx="358.8" cy="319.8" r="2.45" fill="#ff0408"/>
<circle cx="365.3" cy="320.8" r="2.45" fill="#ff0408"/>
<circle cx="371.7" cy="321.4" r="2.45" fill="#ff0408"/>
<circle cx="378.0" cy="321.7" r="2.45" fill="#ff0408"/>
<circle cx="384.4" cy="321.7" r="2.45" fill="#ff0408"/>
<circle cx="390.8" cy="321.7" r="2.45" fill="#ff0408"/>
<circle cx="397.3" cy="321.7" r="2.45" fill="#ff0408"/>
<circle cx="403.7" cy="321.7" r="2.45" fill="#ff0408"/>
<circle cx="410.1" cy="321.7" r="2.45" fill="#ff0408"/>
<circle cx="416.5" cy="321.7" r="2.45" fill="#ff0408"/>
<circle cx="422.9" cy="321.7" r="2.45" fill="#ff0408"/>
<circle cx="429.4" cy="321.7" r="2.45" fill="#ff0408"/>
<circle cx="435.8" cy="321.7" r="2.45" fill="#ff0408"/>
<line x1="294.0" y1="236" x2="294.0" y2="337" stroke="#222" stroke-width="1.0" stroke-dasharray="1.8 0.7"/>
<line x1="359.2" y1="322.3" x2="359.2" y2="337" stroke="#222" stroke-width="0.9" stroke-dasharray="1.8 0.7"/>
<text x="293.6" y="347.5" font-size="8.3" text-anchor="middle"  font-style="italic" style="stroke-width:0.2px">d</text>
<line x1="287.90000000000003" y1="349.5" x2="299.3" y2="349.5" stroke="#111" stroke-width="0.8" />
<text x="288.40000000000003" y="356.5" font-size="8.3" text-anchor="start"  font-style="italic" style="stroke-width:0.2px">v</text>
<text x="292.6" y="354.5" font-size="8" text-anchor="start"  style="stroke-width:0.2px">+</text>
<text x="325.4" y="352.2" font-size="12.3" text-anchor="start"  font-style="italic" style="stroke-width:0.2px">d</text>
<path d="M338.4,341.9 Q334.0,349.2 338.4,356.5" fill="none" stroke="#111" stroke-width="1"/>
<text x="345.59999999999997" y="347.2" font-size="8.3" text-anchor="middle"  style="stroke-width:0.2px">2</text>
<line x1="339.9" y1="349.2" x2="351.29999999999995" y2="349.2" stroke="#111" stroke-width="0.8" />
<text x="340.4" y="356.2" font-size="8.3" text-anchor="start"  font-style="italic" style="stroke-width:0.2px">v</text>
<text x="344.59999999999997" y="354.2" font-size="8" text-anchor="start"  style="stroke-width:0.2px">+</text>
<text x="360.0" y="353.4" font-size="14" text-anchor="middle"  style="stroke-width:0.2px">+</text>
<text x="375.0" y="347.2" font-size="8.3" text-anchor="middle"  style="stroke-width:0.2px">1</text>
<line x1="369.3" y1="349.2" x2="380.7" y2="349.2" stroke="#111" stroke-width="0.8" />
<text x="369.8" y="356.2" font-size="8.3" text-anchor="start"  font-style="italic" style="stroke-width:0.2px">v</text>
<text x="374.0" y="354.2" font-size="8" text-anchor="start"  style="stroke-width:0.2px">−</text>
<path d="M382.4,341.9 Q386.79999999999995,349.2 382.4,356.5" fill="none" stroke="#111" stroke-width="1"/>
<text transform="translate(403.6,350.1) scale(0.963,1)" font-size="11" text-anchor="start"  >time [sec]</text>
<text transform="translate(459.2,191.7) scale(0.94,1)" font-size="11" text-anchor="start"  >F</text>
<text x="470.5" y="198.4" font-size="9.3" text-anchor="start"  >x</text>
<text transform="translate(475.2,198.4) scale(0.78,1)" font-size="11.5" text-anchor="start"  >10</text>
<text x="484.37" y="194.1" font-size="6.8" text-anchor="start"  >-6</text>
<text x="610" y="216.5" font-size="12.3" text-anchor="start"  font-style="italic" style="stroke-width:0.2px">d</text>
<text x="620.3" y="217.5" font-size="16" text-anchor="start"  style="stroke-width:0.2px">=</text>
<text x="633.3" y="216.5" font-size="12.3" text-anchor="start"  style="stroke-width:0.2px">60</text>
<text x="645.4" y="216.5" font-size="12.3" text-anchor="start"  font-style="italic" style="stroke-width:0.2px">μ</text>
<text x="652.4" y="216.5" font-size="12.3" text-anchor="start" textLength="10.4" lengthAdjust="spacingAndGlyphs" style="stroke-width:0.2px">m</text>
<line x1="476.1" y1="201" x2="476.1" y2="325.90000000000003" stroke="#666" stroke-width="1.3" />
<line x1="472.3" y1="322.3" x2="671.3" y2="322.3" stroke="#000" stroke-width="1.0" />
<line x1="472.3" y1="207.6" x2="476.1" y2="207.6" stroke="#333" stroke-width="1.1" />
<line x1="472.3" y1="230.6" x2="476.1" y2="230.6" stroke="#333" stroke-width="1.1" />
<line x1="472.3" y1="253.6" x2="476.1" y2="253.6" stroke="#333" stroke-width="1.1" />
<line x1="472.3" y1="276.59999999999997" x2="476.1" y2="276.59999999999997" stroke="#333" stroke-width="1.1" />
<line x1="472.3" y1="299.59999999999997" x2="476.1" y2="299.59999999999997" stroke="#333" stroke-width="1.1" />
<line x1="507.985" y1="322.3" x2="507.985" y2="326.1" stroke="#333" stroke-width="1.3" />
<line x1="539.87" y1="322.3" x2="539.87" y2="326.1" stroke="#333" stroke-width="1.3" />
<line x1="571.755" y1="322.3" x2="571.755" y2="326.1" stroke="#333" stroke-width="1.3" />
<line x1="603.64" y1="322.3" x2="603.64" y2="326.1" stroke="#333" stroke-width="1.3" />
<line x1="635.525" y1="322.3" x2="635.525" y2="326.1" stroke="#333" stroke-width="1.3" />
<line x1="667.4100000000001" y1="322.3" x2="667.4100000000001" y2="326.1" stroke="#333" stroke-width="1.3" />
<text transform="translate(469.1,211.75) scale(0.92,1)" font-size="11.5" text-anchor="end"  >1</text>
<text transform="translate(469.1,234.75) scale(0.92,1)" font-size="11.5" text-anchor="end"  >0.8</text>
<text transform="translate(469.1,257.75) scale(0.92,1)" font-size="11.5" text-anchor="end"  >0.6</text>
<text transform="translate(469.1,280.75) scale(0.92,1)" font-size="11.5" text-anchor="end"  >0.4</text>
<text transform="translate(469.1,303.75) scale(0.92,1)" font-size="11.5" text-anchor="end"  >0.2</text>
<text transform="translate(467.7,335.7) scale(0.92,1)" font-size="11.5" text-anchor="middle"  >0</text>
<text transform="translate(506.7,335.7) scale(0.92,1)" font-size="11.5" text-anchor="middle"  >5</text>
<text transform="translate(539.2,335.7) scale(0.92,1)" font-size="11.5" text-anchor="middle"  >10</text>
<text transform="translate(571.1,335.7) scale(0.92,1)" font-size="11.5" text-anchor="middle"  >15</text>
<text transform="translate(603.2,335.7) scale(0.92,1)" font-size="11.5" text-anchor="middle"  >20</text>
<text transform="translate(635.6,335.7) scale(0.92,1)" font-size="11.5" text-anchor="middle"  >25</text>
<text transform="translate(667.3,335.7) scale(0.92,1)" font-size="11.5" text-anchor="middle"  >30</text>
<polyline points="476.1,322.3 511.5,322.3" fill="none" stroke="#0808f2" stroke-width="1.55" stroke-linejoin="round"/>
<polyline points="511.1,256.0 511.1,255.6 511.1,255.2 511.1,254.7 511.1,254.1 511.1,253.5 511.1,252.8 511.1,252.1 511.2,251.4 511.2,250.7 511.2,250.0 511.3,249.3 511.3,248.6 511.3,247.9 511.4,247.2 511.5,246.5 511.5,245.8 511.6,245.1 511.7,244.4 511.7,243.7 511.8,243.0 511.9,242.2 512.0,241.5 512.0,240.8 512.1,240.1 512.2,239.4 512.2,238.7 512.3,238.0 512.4,237.3 512.5,236.6 512.5,235.9 512.6,235.2 512.7,234.5 512.8,233.8 512.8,233.1 512.9,232.4 513.0,231.7 513.1,231.0 513.2,230.3 513.2,229.6 513.3,228.9 513.4,228.2 513.5,227.5 513.6,226.8 513.6,226.1 513.7,225.4 513.8,224.7 513.9,224.0 514.0,223.3 514.1,222.6 514.2,221.9 514.3,221.2 514.4,220.4 514.5,219.7 514.6,219.0 514.7,218.3 514.8,217.5 514.9,216.9 515.0,216.2 515.1,215.5 515.2,214.9 515.3,214.3 515.5,213.7 515.6,213.1 515.7,212.5 515.9,211.9 516.0,211.4 516.2,210.9 516.3,210.4 516.5,209.9 516.6,209.4 516.8,209.0 516.9,208.6 517.0,208.2 517.2,207.9 517.3,207.6 517.5,207.4 517.7,207.1 517.8,206.9 518.0,206.7 518.1,206.5 518.3,206.3 518.4,206.2 518.6,206.0 518.7,205.9 518.8,205.8 519.0,205.6 519.1,205.5 519.2,205.4 519.4,205.4 519.5,205.3 519.6,205.3 519.8,205.2 519.9,205.2 520.0,205.2 520.2,205.2 520.3,205.2 520.4,205.2 520.6,205.3 520.8,205.3 520.9,205.4 521.1,205.5 521.2,205.5 521.4,205.6 521.6,205.8 521.7,205.9 521.9,206.1 522.0,206.2 522.2,206.4 522.4,206.6 522.5,206.8 522.7,207.1 522.8,207.3 523.0,207.6 523.2,207.9 523.3,208.2 523.5,208.5 523.6,208.8 523.8,209.1 523.9,209.5 524.1,209.8 524.3,210.2 524.4,210.5 524.5,210.9 524.7,211.3 524.8,211.6 525.0,212.0 525.1,212.5 525.3,212.9 525.4,213.4 525.6,213.8 525.7,214.4 525.9,214.9 526.1,215.5 526.2,216.1 526.4,216.8 526.6,217.5 526.7,218.2 526.9,218.9 527.1,219.6 527.3,220.4 527.5,221.1 527.6,221.9 527.8,222.6 528.0,223.3 528.2,224.0 528.4,224.7 528.6,225.4 528.7,226.1 528.9,226.8 529.1,227.5 529.3,228.2 529.5,228.9 529.7,229.6 529.8,230.3 530.0,231.0 530.2,231.7 530.4,232.4 530.5,233.1 530.7,233.8 530.8,234.5 531.0,235.2 531.2,235.9 531.3,236.6 531.5,237.3 531.6,238.0 531.8,238.7 531.9,239.4 532.1,240.1 532.3,240.8 532.4,241.5 532.6,242.1 532.7,242.8 532.9,243.5 533.0,244.1 533.2,244.8 533.4,245.5 533.6,246.2 533.8,247.0 534.0,247.8 534.2,248.6 534.4,249.5 534.7,250.4 535.0,251.3 535.3,252.3 535.6,253.3 535.9,254.3 536.2,255.4 536.5,256.4 536.9,257.4 537.2,258.5 537.5,259.5 537.8,260.5 538.1,261.5 538.4,262.5 538.7,263.5 539.0,264.5 539.3,265.5 539.6,266.5 539.9,267.6 540.2,268.6 540.5,269.6 540.8,270.5 541.1,271.5 541.4,272.5 541.7,273.5 542.0,274.4 542.2,275.4 542.5,276.3 542.8,277.2 543.0,278.2 543.3,279.1 543.6,280.0 543.8,280.9 544.1,281.8 544.4,282.8 544.7,283.7 545.0,284.6 545.3,285.6 545.6,286.6 546.0,287.6 546.3,288.6 546.6,289.6 546.9,290.5 547.3,291.5 547.6,292.4 547.9,293.3 548.2,294.1 548.5,294.9 548.8,295.6 549.0,296.3 549.3,297.0 549.6,297.6 549.8,298.1 550.1,298.7 550.3,299.2 550.5,299.7 550.8,300.3 551.0,300.8 551.3,301.3 551.5,301.8 551.7,302.3 552.0,302.8 552.2,303.3 552.4,303.7 552.6,304.2 552.8,304.6 553.0,305.1 553.2,305.5 553.5,306.0 553.7,306.5 554.0,307.0 554.3,307.5 554.6,308.1 555.0,308.7 555.3,309.3 555.7,309.9 556.1,310.6 556.5,311.2 557.0,311.9 557.4,312.5 557.8,313.2 558.2,313.8 558.7,314.5 559.1,315.1 559.5,315.7 560.0,316.4 560.5,317.1 561.0,317.8 561.5,318.5 562.1,319.2 562.5,319.8 563.0,320.4 563.4,321.0 563.8,321.5 564.1,322.0 564.4,322.3 667.0,322.3" fill="none" stroke="#0808f2" stroke-width="1.55" stroke-linejoin="round"/>
<circle cx="513.3" cy="251.7" r="2.45" fill="#ff0408"/>
<circle cx="520.6" cy="235.7" r="2.45" fill="#ff0408"/>
<circle cx="527.0" cy="242.3" r="2.45" fill="#ff0408"/>
<circle cx="533.5" cy="255.7" r="2.45" fill="#ff0408"/>
<circle cx="539.8" cy="269.9" r="2.45" fill="#ff0408"/>
<circle cx="546.2" cy="282.2" r="2.45" fill="#ff0408"/>
<circle cx="552.6" cy="292.2" r="2.45" fill="#ff0408"/>
<circle cx="559.0" cy="299.5" r="2.45" fill="#ff0408"/>
<circle cx="565.4" cy="305.9" r="2.45" fill="#ff0408"/>
<circle cx="571.9" cy="310.5" r="2.45" fill="#ff0408"/>
<circle cx="578.2" cy="313.1" r="2.45" fill="#ff0408"/>
<circle cx="584.5" cy="315.7" r="2.45" fill="#ff0408"/>
<circle cx="590.8" cy="317.5" r="2.45" fill="#ff0408"/>
<circle cx="597.3" cy="318.8" r="2.45" fill="#ff0408"/>
<circle cx="603.7" cy="319.8" r="2.45" fill="#ff0408"/>
<circle cx="610.0" cy="320.5" r="2.45" fill="#ff0408"/>
<circle cx="616.4" cy="321.0" r="2.45" fill="#ff0408"/>
<circle cx="622.9" cy="321.4" r="2.45" fill="#ff0408"/>
<circle cx="629.1" cy="321.6" r="2.45" fill="#ff0408"/>
<circle cx="635.6" cy="321.8" r="2.45" fill="#ff0408"/>
<circle cx="642.0" cy="321.9" r="2.45" fill="#ff0408"/>
<circle cx="648.3" cy="322.0" r="2.45" fill="#ff0408"/>
<circle cx="654.8" cy="322.0" r="2.45" fill="#ff0408"/>
<circle cx="661.2" cy="322.0" r="2.45" fill="#ff0408"/>
<circle cx="667.5" cy="322.1" r="2.45" fill="#ff0408"/>
<line x1="511.5" y1="254.7" x2="511.5" y2="337" stroke="#222" stroke-width="0.9" stroke-dasharray="1.8 0.7"/>
<line x1="564.5" y1="322.3" x2="564.5" y2="337" stroke="#222" stroke-width="0.9" stroke-dasharray="1.8 0.7"/>
<text x="675.7" y="324" font-size="9.3" text-anchor="start"  >x</text>
<text transform="translate(680.4000000000001,324) scale(0.78,1)" font-size="11.5" text-anchor="start"  >10</text>
<text x="689.57" y="319.7" font-size="6.8" text-anchor="start"  >3</text>
<text x="511.4" y="346.7" font-size="8.3" text-anchor="middle"  font-style="italic" style="stroke-width:0.2px">d</text>
<line x1="505.7" y1="348.7" x2="517.1" y2="348.7" stroke="#111" stroke-width="0.8" />
<text x="506.2" y="355.7" font-size="8.3" text-anchor="start"  font-style="italic" style="stroke-width:0.2px">v</text>
<text x="510.4" y="353.7" font-size="8" text-anchor="start"  style="stroke-width:0.2px">+</text>
<text x="534.8" y="351.6" font-size="12.3" text-anchor="start"  font-style="italic" style="stroke-width:0.2px">d</text>
<path d="M547.8,341.3 Q543.4,348.6 547.8,355.90000000000003" fill="none" stroke="#111" stroke-width="1"/>
<text x="555.0" y="346.6" font-size="8.3" text-anchor="middle"  style="stroke-width:0.2px">2</text>
<line x1="549.3" y1="348.6" x2="560.7" y2="348.6" stroke="#111" stroke-width="0.8" />
<text x="549.8" y="355.6" font-size="8.3" text-anchor="start"  font-style="italic" style="stroke-width:0.2px">v</text>
<text x="554.0" y="353.6" font-size="8" text-anchor="start"  style="stroke-width:0.2px">+</text>
<text x="569.4" y="352.8" font-size="14" text-anchor="middle"  style="stroke-width:0.2px">+</text>
<text x="584.4" y="346.6" font-size="8.3" text-anchor="middle"  style="stroke-width:0.2px">1</text>
<line x1="578.6999999999999" y1="348.6" x2="590.1" y2="348.6" stroke="#111" stroke-width="0.8" />
<text x="579.1999999999999" y="355.6" font-size="8.3" text-anchor="start"  font-style="italic" style="stroke-width:0.2px">v</text>
<text x="583.4" y="353.6" font-size="8" text-anchor="start"  style="stroke-width:0.2px">−</text>
<path d="M591.8,341.3 Q596.1999999999999,348.6 591.8,355.90000000000003" fill="none" stroke="#111" stroke-width="1"/>
<text transform="translate(631.8,350.1) scale(0.963,1)" font-size="11" text-anchor="start"  >time [sec]</text>
</svg></body></html>
